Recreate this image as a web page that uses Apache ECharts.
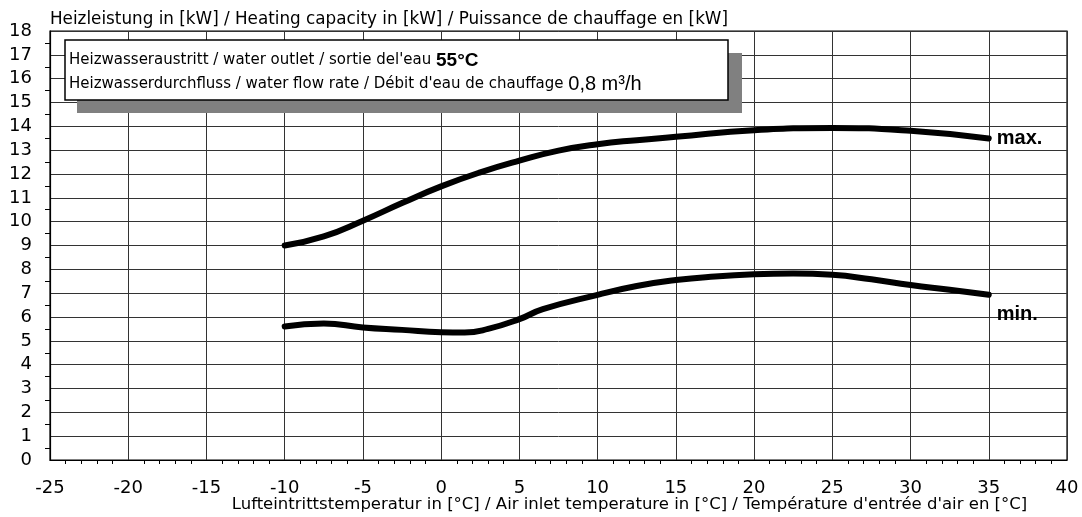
<!DOCTYPE html>
<html>
<head>
<meta charset="utf-8">
<script src="https://cdn.jsdelivr.net/npm/echarts@6/dist/echarts.min.js"></script>
<style>
  html, body { margin: 0; padding: 0; background: #fff; }
  #chart { width: 1082px; height: 517px; }
</style>
</head>
<body>
<div id="chart"></div>
<script>
// Heating capacity curves (kW) over air inlet temperature (°C)
const maxTemp = [-10, -7.5, -5, -2.5, 0, 2.5, 5, 7.5, 10, 12.5, 15, 20, 25, 30, 35];
const maxCapacity = [9.0, 9.38, 10.04, 10.78, 11.48, 12.07, 12.56, 12.98, 13.25, 13.42, 13.56, 13.84, 13.93, 13.81, 13.49];

const minTemp = [-10, -7.5, -5, -2.5, 0, 1.5, 3, 5, 6.5, 10, 12.5, 15, 17.5, 20, 22.5, 25, 27.5, 30, 32.5, 35];
const minCapacity = [5.6, 5.73, 5.56, 5.46, 5.36, 5.35, 5.5, 5.91, 6.33, 6.93, 7.3, 7.55, 7.7, 7.79, 7.82, 7.77, 7.58, 7.34, 7.14, 6.93];

const xTicks = { min: -25, max: 40, step: 5 };
const yTicks = { min: 0, max: 18, step: 1 };

const yTitle = 'Heizleistung in [kW] / Heating capacity in [kW] / Puissance de chauffage en [kW]';
const xTitle = 'Lufteintrittstemperatur in [°C] / Air inlet temperature in [°C] / Température d\'entrée d\'air en [°C]';
const outletText = ['Heizwasseraustritt / water outlet / sortie del\'eau ', '55°C'];
const flowText = ['Heizwasserdurchfluss / water flow rate / Débit d\'eau de chauffage ', '0,8 m³/h'];
const curveNames = ['max.', 'min.'];

const WIDE = '"DejaVu Sans", Verdana, sans-serif';
const NARROW = '"Liberation Sans", Arial, sans-serif';

function pairs(xs, ys) { return xs.map((x, i) => [x, ys[i]]); }

const chart = echarts.init(document.getElementById('chart'), null, { renderer: 'canvas' });

const gridLine = { show: true, lineStyle: { color: '#333', width: 1 } };

function curve(name, xs, ys, offset) {
  return {
    type: 'line', name: name, data: pairs(xs, ys),
    smooth: 0.5, showSymbol: false, symbol: 'none',
    lineStyle: { color: '#000', width: 6, cap: 'round', join: 'round' },
    endLabel: { show: true, formatter: name, distance: 8, offset: offset,
      fontFamily: NARROW, fontWeight: 'bold', fontSize: 20, color: '#000' }
  };
}

chart.setOption({
  animation: false,
  backgroundColor: '#fff',
  grid: { left: 50, right: 15, top: 31, bottom: 57, outerBoundsMode: 'none', containLabel: false,
    show: true, borderColor: '#000', borderWidth: 1.2, backgroundColor: 'transparent' },
  title: {
    text: yTitle, left: 50, top: 11, padding: 0,
    textStyle: { fontFamily: WIDE, fontSize: 16.8, fontWeight: 'normal', color: '#000' }
  },
  xAxis: {
    type: 'value', min: xTicks.min, max: xTicks.max, interval: xTicks.step,
    name: xTitle, nameLocation: 'middle', nameGap: 36, nameMoveOverlap: false,
    nameTextStyle: { fontFamily: WIDE, fontSize: 16.5, color: '#000', align: 'center', padding: [0, 0, 0, 142] },
    axisLine: { show: true, onZero: false, lineStyle: { color: '#000', width: 1.2 } },
    axisTick: { show: false },
    minorTick: { show: true, splitNumber: 5, length: 4, lineStyle: { color: '#000', width: 1 } },
    axisLabel: { fontFamily: WIDE, fontSize: 18, color: '#000', margin: 19 },
    splitLine: gridLine
  },
  yAxis: {
    type: 'value', min: yTicks.min, max: yTicks.max, interval: yTicks.step,
    axisLine: { show: true, onZero: false, lineStyle: { color: '#000', width: 1.2 } },
    axisTick: { show: false },
    minorTick: { show: true, splitNumber: 2, length: 5, lineStyle: { color: '#000', width: 1 } },
    axisLabel: { fontFamily: WIDE, fontSize: 18, color: '#000', margin: 18 },
    splitLine: gridLine
  },
  graphic: [
    { type: 'rect', z: 10, shape: { x: 77, y: 53, width: 665, height: 60 }, style: { fill: '#808080' } },
    { type: 'rect', z: 11, shape: { x: 65, y: 40, width: 663, height: 60 }, style: { fill: '#fff', stroke: '#000', lineWidth: 1.5 } },
    { type: 'text', z: 12, left: 69, top: 51,
      style: { text: '{a|' + outletText[0] + '}{b|' + outletText[1] + '}',
        rich: { a: { fontFamily: WIDE, fontSize: 15, fill: '#000' },
                b: { fontFamily: NARROW, fontSize: 19, fontWeight: 'bold', fill: '#000' } } } },
    { type: 'text', z: 12, left: 69, top: 74,
      style: { text: '{a|' + flowText[0] + '}{b|' + flowText[1] + '}',
        rich: { a: { fontFamily: WIDE, fontSize: 15, fill: '#000' },
                b: { fontFamily: NARROW, fontSize: 20, fill: '#000' } } } }
  ],
  series: [
    curve(curveNames[0], maxTemp, maxCapacity, [0, 0]),
    curve(curveNames[1], minTemp, minCapacity, [0, 20])
  ]
});
</script>
</body>
</html>
